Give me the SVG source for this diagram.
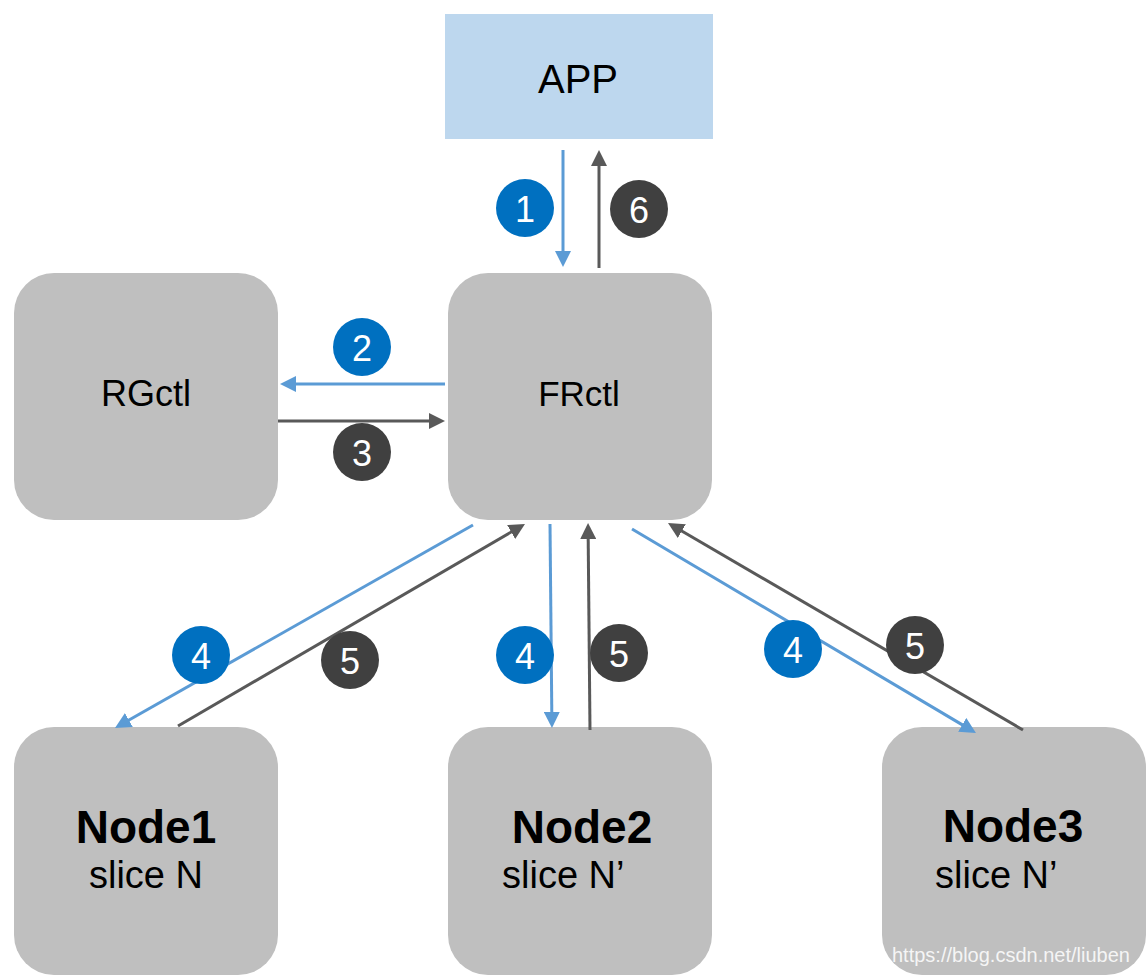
<svg xmlns="http://www.w3.org/2000/svg" width="1148" height="978" viewBox="0 0 1148 978">
<defs>
<style>
.node{fill:#BFBFBF}
.app{fill:#BDD7EE}
.t{font-family:"Liberation Sans",Arial,sans-serif;fill:#000}
.b{font-weight:bold}
.blue{stroke:#5B9BD5;stroke-width:3;fill:none;marker-end:url(#ab)}
.dark{stroke:#595959;stroke-width:3;fill:none;marker-end:url(#ad)}
.cb{fill:#0070C0}
.cd{fill:#404040}
.num{font-family:"Liberation Sans",Arial,sans-serif;font-size:36px;fill:#fff;text-anchor:middle}
.wm{font-family:"Liberation Sans",Arial,sans-serif;font-size:20px;fill:#fff;fill-opacity:0.85}
</style>
<marker id="ab" viewBox="0 0 16 16" refX="10" refY="8" markerWidth="16" markerHeight="16" markerUnits="userSpaceOnUse" orient="auto"><path d="M0,0 L16,8 L0,16 z" fill="#5B9BD5"/></marker>
<marker id="ad" viewBox="0 0 16 16" refX="10" refY="8" markerWidth="16" markerHeight="16" markerUnits="userSpaceOnUse" orient="auto"><path d="M0,0 L16,8 L0,16 z" fill="#595959"/></marker>
</defs>
<rect width="1148" height="978" fill="#fff"/>
<g id="app"><rect class="app" x="445" y="14" width="268" height="125"/><text class="t" x="578" y="93" font-size="40" text-anchor="middle">APP</text></g>
<g id="rgctl"><rect class="node" x="14" y="273" width="264" height="247" rx="40"/><text class="t" x="146" y="406" font-size="36" text-anchor="middle">RGctl</text></g>
<g id="frctl"><rect class="node" x="448" y="273" width="264" height="247" rx="40"/><text class="t" x="579" y="406" font-size="35" text-anchor="middle">FRctl</text></g>
<g id="node1"><rect class="node" x="14" y="727" width="264" height="248" rx="40"/><text class="t b" x="146" y="843" font-size="46" text-anchor="middle">Node1</text><text class="t" x="146" y="888" font-size="38" text-anchor="middle">slice N</text></g>
<g id="node2"><rect class="node" x="448" y="727" width="264" height="248" rx="40"/><text class="t b" x="582" y="843" font-size="46" text-anchor="middle">Node2</text><text class="t" x="502" y="888" font-size="38">slice N’</text></g>
<g id="node3"><rect class="node" x="882" y="727" width="264" height="248" rx="40"/><text class="t b" x="1013" y="842" font-size="46" text-anchor="middle">Node3</text><text class="t" x="935" y="888" font-size="38">slice N’</text></g>
<g id="connectors">
<line class="blue" x1="563" y1="150" x2="563" y2="261"/>
<line class="dark" x1="599" y1="268" x2="599" y2="156"/>
<line class="blue" x1="445" y1="384" x2="286" y2="384"/>
<line class="dark" x1="278" y1="421" x2="439" y2="421"/>
<line class="blue" x1="473" y1="525" x2="120.2" y2="725"/>
<line class="dark" x1="178" y1="726" x2="519.8" y2="527"/>
<line class="blue" x1="550" y1="524" x2="551.9" y2="722"/>
<line class="dark" x1="590" y1="730" x2="588.1" y2="529"/>
<line class="blue" x1="632" y1="529" x2="970.8" y2="729.9"/>
<line class="dark" x1="1023" y1="730" x2="673.2" y2="526"/>
<g id="badges">
<circle class="cb" cx="525" cy="208" r="29"/><text class="num" x="525" y="221.5">1</text>
<circle class="cd" cx="639" cy="209" r="29"/><text class="num" x="639" y="222.5">6</text>
<circle class="cb" cx="362" cy="347" r="29"/><text class="num" x="362" y="360.5">2</text>
<circle class="cd" cx="362" cy="452" r="29"/><text class="num" x="362" y="465.5">3</text>
<circle class="cb" cx="201" cy="655" r="29"/><text class="num" x="201" y="668.5">4</text>
<circle class="cd" cx="350" cy="660" r="29"/><text class="num" x="350" y="673.5">5</text>
<circle class="cb" cx="525" cy="655" r="29"/><text class="num" x="525" y="668.5">4</text>
<circle class="cd" cx="619" cy="653" r="29"/><text class="num" x="619" y="666.5">5</text>
<circle class="cb" cx="793" cy="649" r="29"/><text class="num" x="793" y="662.5">4</text>
<circle class="cd" cx="915" cy="645" r="29"/><text class="num" x="915" y="658.5">5</text>
</g>
</g>
<text class="wm" x="892" y="962">https://blog.csdn.net/liuben</text>
</svg>
